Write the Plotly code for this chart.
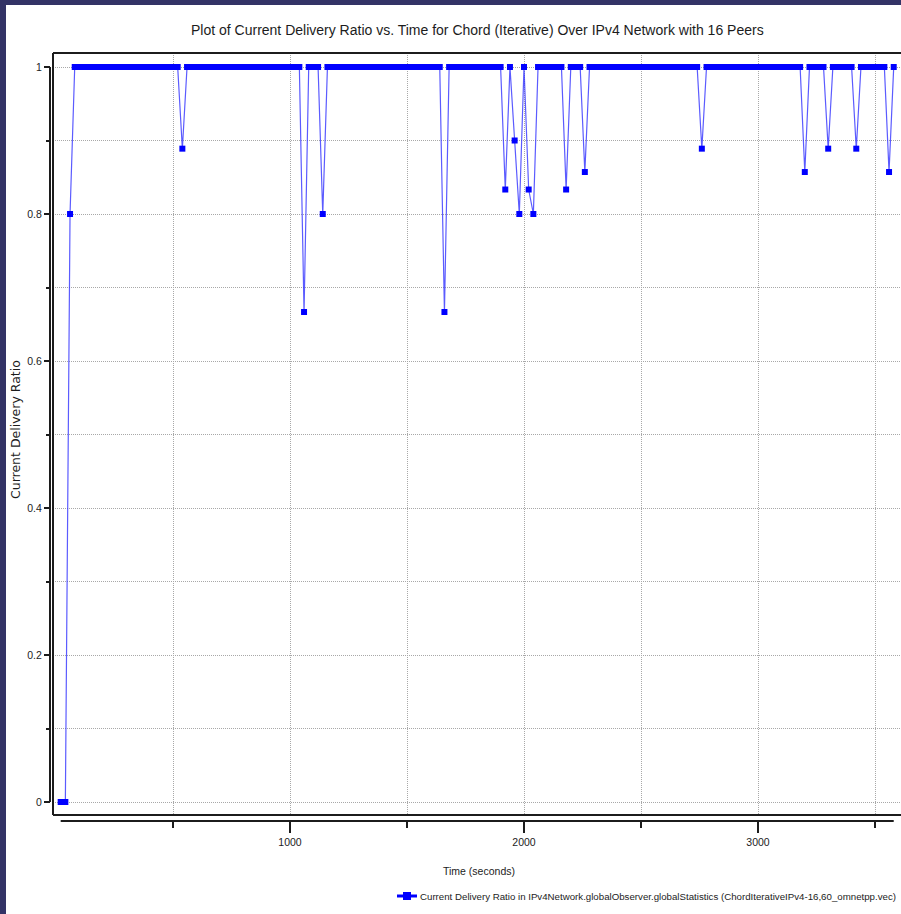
import plotly.graph_objects as go

# Vector samples: time (s) and current delivery ratio
sample_time_s = [
    20, 40, 60, 80, 100, 120, 140, 160, 180, 200,
    220, 240, 260, 280, 300, 320, 340, 360, 380, 400,
    420, 440, 460, 480, 500, 520, 540, 560, 580, 600,
    620, 640, 660, 680, 700, 720, 740, 760, 780, 800,
    820, 840, 860, 880, 900, 920, 940, 960, 980, 1000,
    1020, 1040, 1060, 1080, 1100, 1120, 1140, 1160, 1180, 1200,
    1220, 1240, 1260, 1280, 1300, 1320, 1340, 1360, 1380, 1400,
    1420, 1440, 1460, 1480, 1500, 1520, 1540, 1560, 1580, 1600,
    1620, 1640, 1660, 1680, 1700, 1720, 1740, 1760, 1780, 1800,
    1820, 1840, 1860, 1880, 1900, 1920, 1940, 1960, 1980, 2000,
    2020, 2040, 2060, 2080, 2100, 2120, 2140, 2160, 2180, 2200,
    2220, 2240, 2260, 2280, 2300, 2320, 2340, 2360, 2380, 2400,
    2420, 2440, 2460, 2480, 2500, 2520, 2540, 2560, 2580, 2600,
    2620, 2640, 2660, 2680, 2700, 2720, 2740, 2760, 2780, 2800,
    2820, 2840, 2860, 2880, 2900, 2920, 2940, 2960, 2980, 3000,
    3020, 3040, 3060, 3080, 3100, 3120, 3140, 3160, 3180, 3200,
    3220, 3240, 3260, 3280, 3300, 3320, 3340, 3360, 3380, 3400,
    3420, 3440, 3460, 3480, 3500, 3520, 3540, 3560, 3580,
]
delivery_ratio = [
    0, 0, 0.8, 1, 1, 1, 1, 1, 1, 1,
    1, 1, 1, 1, 1, 1, 1, 1, 1, 1,
    1, 1, 1, 1, 1, 1, 0.8889, 1, 1, 1,
    1, 1, 1, 1, 1, 1, 1, 1, 1, 1,
    1, 1, 1, 1, 1, 1, 1, 1, 1, 1,
    1, 1, 0.6667, 1, 1, 1, 0.8, 1, 1, 1,
    1, 1, 1, 1, 1, 1, 1, 1, 1, 1,
    1, 1, 1, 1, 1, 1, 1, 1, 1, 1,
    1, 1, 0.6667, 1, 1, 1, 1, 1, 1, 1,
    1, 1, 1, 1, 1, 0.8333, 1, 0.9, 0.8, 1,
    0.8333, 0.8, 1, 1, 1, 1, 1, 1, 0.8333, 1,
    1, 1, 0.8571, 1, 1, 1, 1, 1, 1, 1,
    1, 1, 1, 1, 1, 1, 1, 1, 1, 1,
    1, 1, 1, 1, 1, 1, 1, 0.8889, 1, 1,
    1, 1, 1, 1, 1, 1, 1, 1, 1, 1,
    1, 1, 1, 1, 1, 1, 1, 1, 1, 0.8571,
    1, 1, 1, 1, 0.8889, 1, 1, 1, 1, 1,
    0.8889, 1, 1, 1, 1, 1, 1, 0.8571, 1,
]

y_major_ticks = [0, 0.2, 0.4, 0.6, 0.8, 1]
y_major_labels = ["0", "0.2", "0.4", "0.6", "0.8", "1"]
y_minor_ticks = [0.1, 0.3, 0.5, 0.7, 0.9]
x_major_ticks = [1000, 2000, 3000]
x_major_labels = ["1000", "2000", "3000"]
x_minor_ticks = [500, 1500, 2500, 3500]

title_text = "Plot of Current Delivery Ratio vs. Time for Chord (Iterative) Over IPv4 Network with 16 Peers"
x_title = "Time (seconds)"
y_title = "Current Delivery Ratio"
legend_text = ("Current Delivery Ratio in IPv4Network.globalObserver.globalStatistics "
               "(ChordIterativeIPv4-16,60_omnetpp.vec)")

W, H = 901, 914
ML, MR, MT, MB = 40, 0, 53, 93
PW, PH = W - ML - MR, H - MT - MB
BOTTOM = H - MB

FONT = "Liberation Sans, Arial, sans-serif"
WIDE_FONT = "DejaVu Sans, Verdana, sans-serif"
INK = "#1c1c1c"
GRID = "#a8a8a8"
GRID_DASH = "1px,1px"
BLUE = "#0000ff"


def fx(px):
    return (px - ML) / PW


def fy(py):
    return (BOTTOM - py) / PH


fig = go.Figure()
fig.add_trace(go.Scatter(
    x=sample_time_s, y=delivery_ratio, mode="lines+markers",
    line=dict(color="rgba(50,50,255,0.8)", width=1.2),
    marker=dict(symbol="square", size=6, color=BLUE, line=dict(width=0)),
    showlegend=False, hoverinfo="x+y",
))

shapes = []
# plot frame (top, left, bottom)
shapes.append(dict(type="line", xref="paper", yref="paper", x0=fx(53), x1=fx(902), y0=fy(53), y1=fy(53),
                   line=dict(color=INK, width=2)))
shapes.append(dict(type="line", xref="paper", yref="paper", x0=fx(53), x1=fx(53), y0=fy(53), y1=fy(815),
                   line=dict(color=INK, width=2)))
shapes.append(dict(type="line", xref="paper", yref="paper", x0=fx(53), x1=fx(902), y0=fy(815), y1=fy(815),
                   line=dict(color=INK, width=2)))
# detached axis lines spanning the data range
shapes.append(dict(type="line", xref="paper", yref="y", x0=fx(50), x1=fx(50),
                   y0=min(delivery_ratio), y1=max(delivery_ratio), line=dict(color=INK, width=2)))
shapes.append(dict(type="line", xref="x", yref="paper", x0=min(sample_time_s), x1=max(sample_time_s),
                   y0=fy(821), y1=fy(821), line=dict(color=INK, width=2)))
# legend glyph
shapes.append(dict(type="line", xref="paper", yref="paper", x0=fx(397), x1=fx(417), y0=fy(896), y1=fy(896),
                   line=dict(color=BLUE, width=3)))
shapes.append(dict(type="rect", xref="paper", yref="paper", x0=fx(403), x1=fx(411), y0=fy(900), y1=fy(892),
                   fillcolor=BLUE, line=dict(width=0)))
# window border
shapes.append(dict(type="rect", xref="paper", yref="paper", x0=fx(0), x1=fx(6), y0=fy(914), y1=fy(0),
                   fillcolor="#333366", line=dict(width=0), layer="above"))
shapes.append(dict(type="rect", xref="paper", yref="paper", x0=fx(0), x1=fx(901), y0=fy(5), y1=fy(0),
                   fillcolor="#333366", line=dict(width=0), layer="above"))

annotations = [
    dict(text=title_text, xref="paper", yref="paper", x=fx(477.5), y=fy(30), xanchor="center", yanchor="middle",
         showarrow=False, font=dict(family=FONT, size=14, color=INK)),
    dict(text=x_title, xref="paper", yref="paper", x=fx(479), y=fy(871), xanchor="center", yanchor="middle",
         showarrow=False, font=dict(family=FONT, size=10.5, color=INK)),
    dict(text=y_title, xref="paper", yref="paper", x=fx(15), y=fy(430), xanchor="center", yanchor="middle",
         textangle=-90, showarrow=False, font=dict(family=WIDE_FONT, size=12.5, color=INK)),
    dict(text=legend_text, xref="paper", yref="paper", x=fx(898), y=fy(896), xanchor="right", yanchor="middle",
         showarrow=False, font=dict(family=FONT, size=9.7, color=INK)),
]

px_per_s = 0.234
x0_px = 56
y1_px, y0_px = 67, 802
px_per_unit = y0_px - y1_px

fig.update_layout(
    width=W, height=H,
    margin=dict(l=ML, r=MR, t=MT, b=MB, pad=0),
    paper_bgcolor="white", plot_bgcolor="white",
    font=dict(family=FONT, size=10.5, color=INK),
    xaxis=dict(
        domain=[fx(53), 1], anchor="free", position=0,
        range=[(53 - x0_px) / px_per_s, (901 - x0_px) / px_per_s],
        tickmode="array", tickvals=x_major_ticks, ticktext=x_major_labels,
        ticks="outside", ticklen=11, tickwidth=1.5, tickcolor=INK,
        showline=False, zeroline=False,
        showgrid=True, gridcolor=GRID, griddash=GRID_DASH, gridwidth=1,
        minor=dict(tickmode="array", tickvals=x_minor_ticks, ticks="outside", ticklen=6, tickwidth=1.5,
                   tickcolor=INK, showgrid=True, gridcolor=GRID, griddash=GRID_DASH, gridwidth=1),
        tickfont=dict(family=FONT, size=10.5, color=INK),
        fixedrange=True,
    ),
    yaxis=dict(
        domain=[fy(815), 1], anchor="free", position=fx(50),
        range=[-(815 - y0_px) / px_per_unit, 1 + (y1_px - 53) / px_per_unit],
        tickmode="array", tickvals=y_major_ticks, ticktext=y_major_labels,
        ticks="outside", ticklen=6, tickwidth=1.5, tickcolor=INK,
        showline=False, zeroline=False,
        showgrid=True, gridcolor=GRID, griddash=GRID_DASH, gridwidth=1,
        minor=dict(tickmode="array", tickvals=y_minor_ticks, ticks="outside", ticklen=4, tickwidth=1.5,
                   tickcolor=INK, showgrid=True, gridcolor=GRID, griddash=GRID_DASH, gridwidth=1),
        tickfont=dict(family=FONT, size=10.5, color=INK),
        fixedrange=True,
    ),
    shapes=shapes,
    annotations=annotations,
    showlegend=False,
)

fig.write_html("out.html", config={"displayModeBar": False})
